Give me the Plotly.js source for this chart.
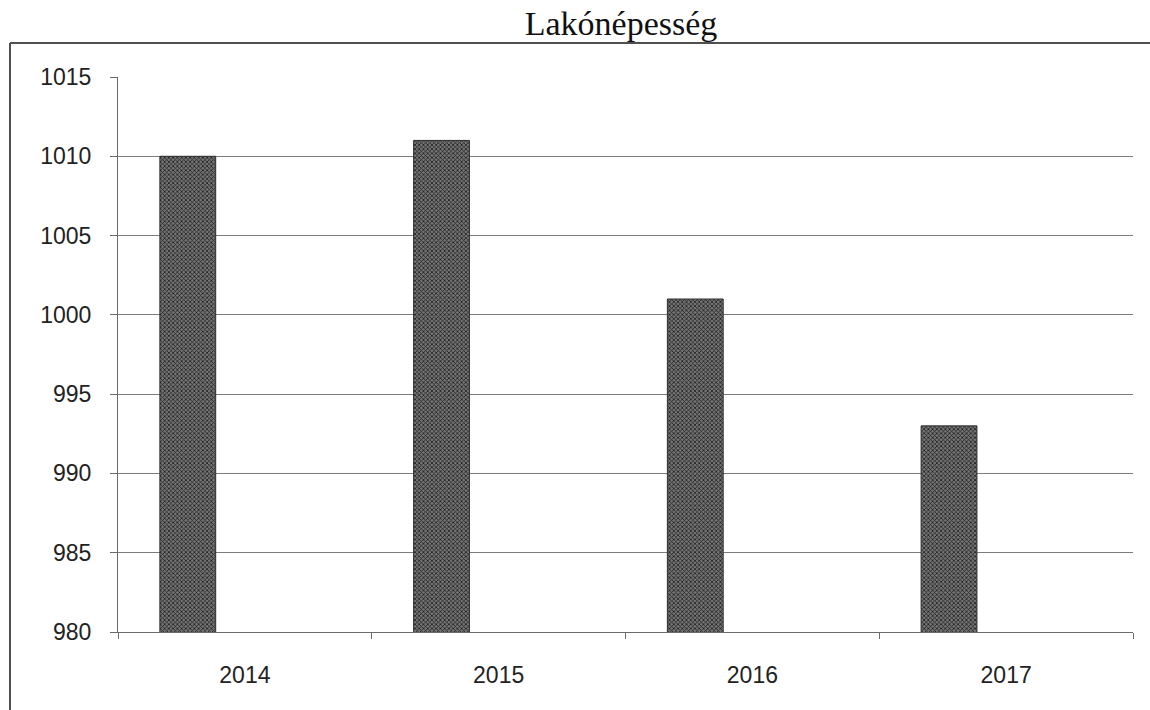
<!DOCTYPE html>
<html>
<head>
<meta charset="utf-8">
<script src="https://cdn.plot.ly/plotly-3.0.1.min.js"></script>
<style>
  html, body { margin: 0; padding: 0; background: #ffffff; overflow: hidden; }
  #chart { width: 1150px; height: 710px; }
</style>
</head>
<body>
<div id="chart"></div>
<script>
// Data
const years = ["2014", "2015", "2016", "2017"];
const population = [1010, 1011, 1001, 993];
const yTickValues = [980, 985, 990, 995, 1000, 1005, 1010, 1015];
const yTickLabels = ["980", "985", "990", "995", "1000", "1005", "1010", "1015"];
const chartTitle = "Lakónépesség";

const trace = {
  type: "bar",
  x: years,
  y: population,
  width: 0.22,
  offset: -0.335,
  marker: {
    color: "#555555",
    line: { color: "#2e2e2e", width: 1 },
    pattern: { shape: "x", size: 3, solidity: 0.45, fgcolor: "#1e1e1e", bgcolor: "#747474" }
  },
  hoverinfo: "x+y",
  showlegend: false
};

const frameLeft = (10 - 118) / 1015;
const frameTop = (632 - 43) / 555;

const layout = {
  width: 1150,
  height: 710,
  margin: { l: 118, r: 17, t: 77, b: 78 },
  paper_bgcolor: "#ffffff",
  plot_bgcolor: "#ffffff",
  title: {
    text: chartTitle,
    font: { family: "Liberation Serif, Times New Roman, serif", size: 34, color: "#111111" },
    x: 621 / 1150, xref: "container", xanchor: "center",
    y: 1 - 23 / 710, yref: "container", yanchor: "middle"
  },
  xaxis: {
    type: "category",
    tickson: "boundaries",
    ticks: "outside",
    ticklen: 6,
    tickcolor: "#6a6a6a",
    tickwidth: 1,
    showline: true,
    linecolor: "#6a6a6a",
    linewidth: 1,
    showgrid: false,
    tickfont: { family: "Liberation Sans, Arial, sans-serif", size: 23, color: "#222222" },
    ticklabelstandoff: 22,
    fixedrange: true
  },
  yaxis: {
    range: [980, 1015],
    tickvals: yTickValues,
    ticktext: yTickLabels,
    ticks: "outside",
    ticklen: 7,
    tickcolor: "#6a6a6a",
    showline: true,
    linecolor: "#6a6a6a",
    linewidth: 1,
    showgrid: true,
    gridcolor: "#7c7c7c",
    gridwidth: 1,
    zeroline: false,
    tickfont: { family: "Liberation Sans, Arial, sans-serif", size: 23, color: "#222222" },
    ticklabelstandoff: 14,
    fixedrange: true
  },
  shapes: [
    {
      type: "line", xref: "paper", yref: "paper",
      x0: frameLeft, x1: frameLeft, y0: -0.3, y1: frameTop,
      line: { color: "#505050", width: 2 }, layer: "below"
    },
    {
      type: "line", xref: "paper", yref: "paper",
      x0: frameLeft, x1: 1.3, y0: frameTop, y1: frameTop,
      line: { color: "#505050", width: 2 }, layer: "below"
    }
  ],
  bargap: 0.2
};

Plotly.newPlot("chart", [trace], layout, { displayModeBar: false, staticPlot: true });
</script>
</body>
</html>
